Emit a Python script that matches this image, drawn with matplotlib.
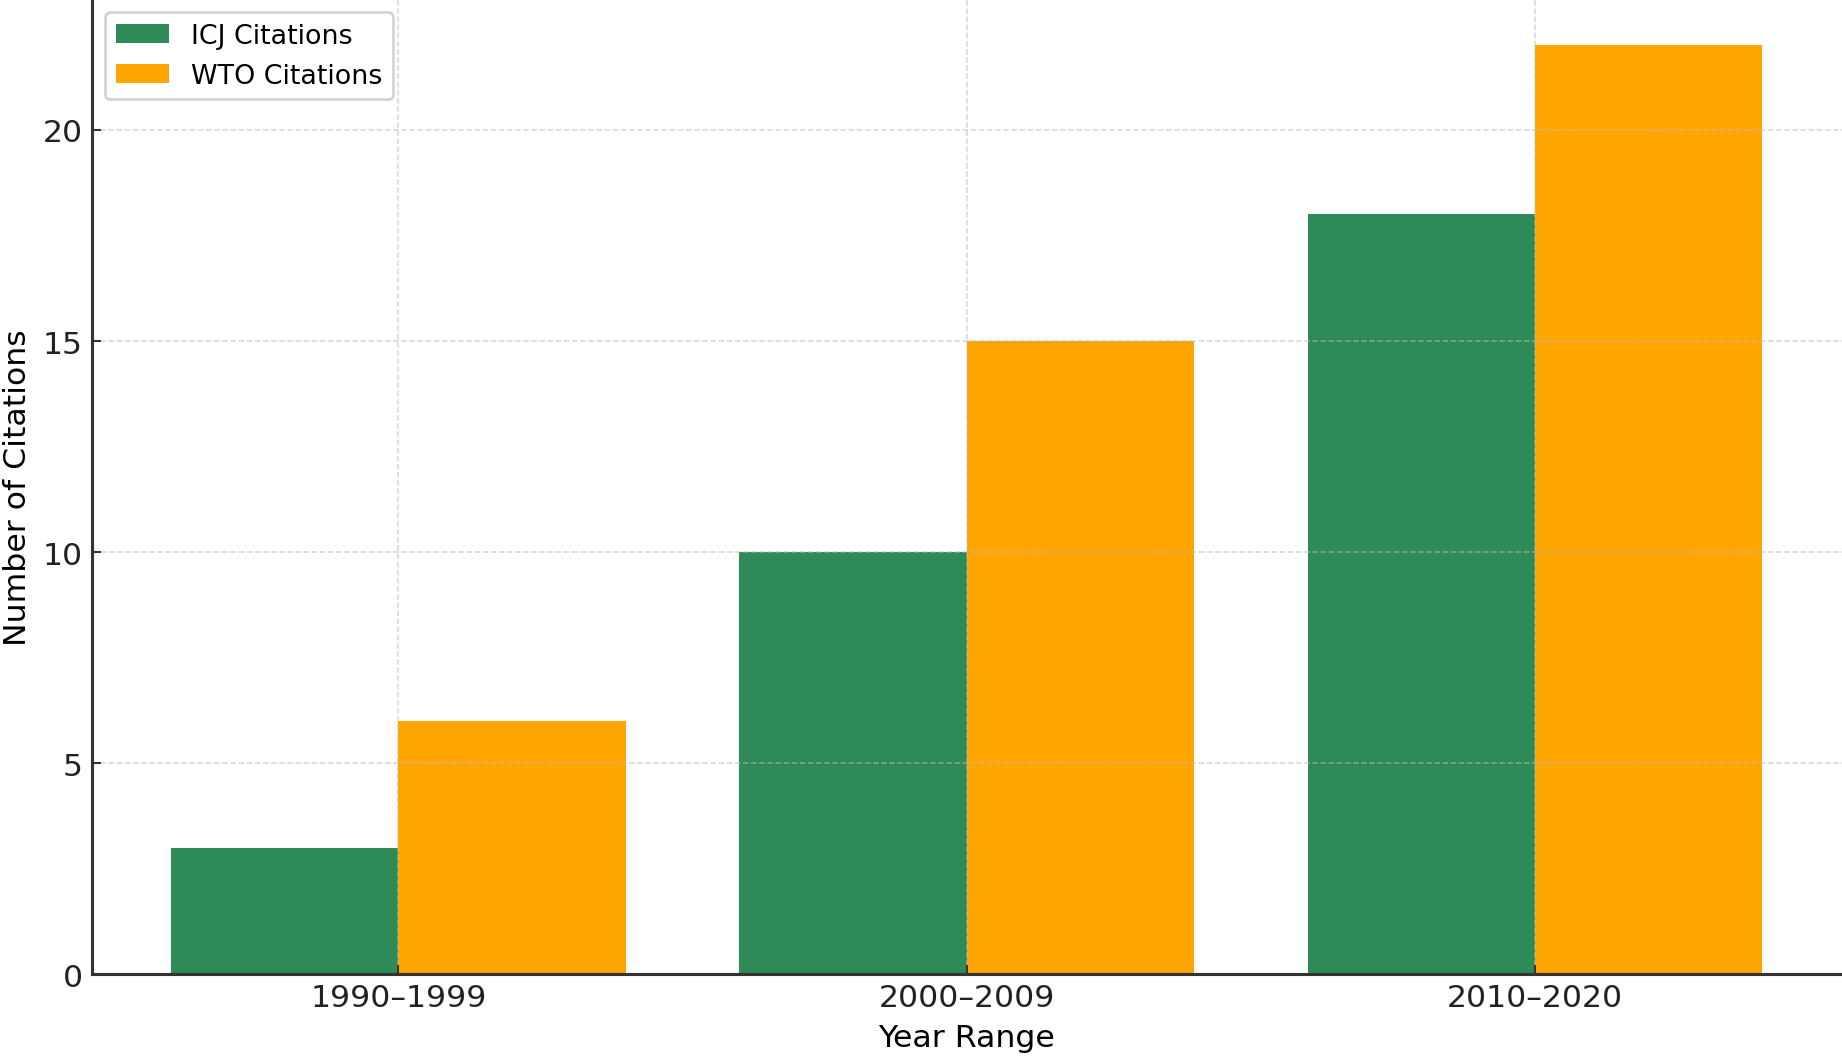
import matplotlib
matplotlib.use("Agg")
import matplotlib.pyplot as plt
import numpy as np

year_ranges = ["1990–1999", "2000–2009", "2010–2020"]
icj_citations = [3, 10, 18]
wto_citations = [6, 15, 22]

plt.rcParams["font.family"] = ["DejaVu Sans"]
plt.rcParams["font.size"] = 12.3

fig = plt.figure(figsize=(10, 5.7546), dpi=184.2)
ax = fig.add_axes([0.0497, 0.0798, 0.9503, 0.9202])

x = np.arange(len(year_ranges))
width = 0.4
ax.bar(x - width / 2, icj_citations, width, color="#2E8B57", label="ICJ Citations")
ax.bar(x + width / 2, wto_citations, width, color="#FFA500", label="WTO Citations")

ax.set_xticks(x)
ax.set_xticklabels(year_ranges)
ax.set_xlabel("Year Range", labelpad=4)
ax.set_ylabel("Number of Citations")
ax.set_yticks([0, 5, 10, 15, 20])

ax.grid(True, linestyle="--", color="#bbbbbb", alpha=0.6, linewidth=0.6)
ax.tick_params(direction="in", color="#333333", length=3.5, labelcolor="#222222")
for side in ("top", "right"):
    ax.spines[side].set_visible(False)
for side in ("left", "bottom"):
    ax.spines[side].set_color("#333333")
    ax.spines[side].set_linewidth(1.2)

ax.legend(loc="upper left", framealpha=0.9, edgecolor="#cccccc", fontsize=10.5)

fig.savefig("out.png", dpi=184.2)
